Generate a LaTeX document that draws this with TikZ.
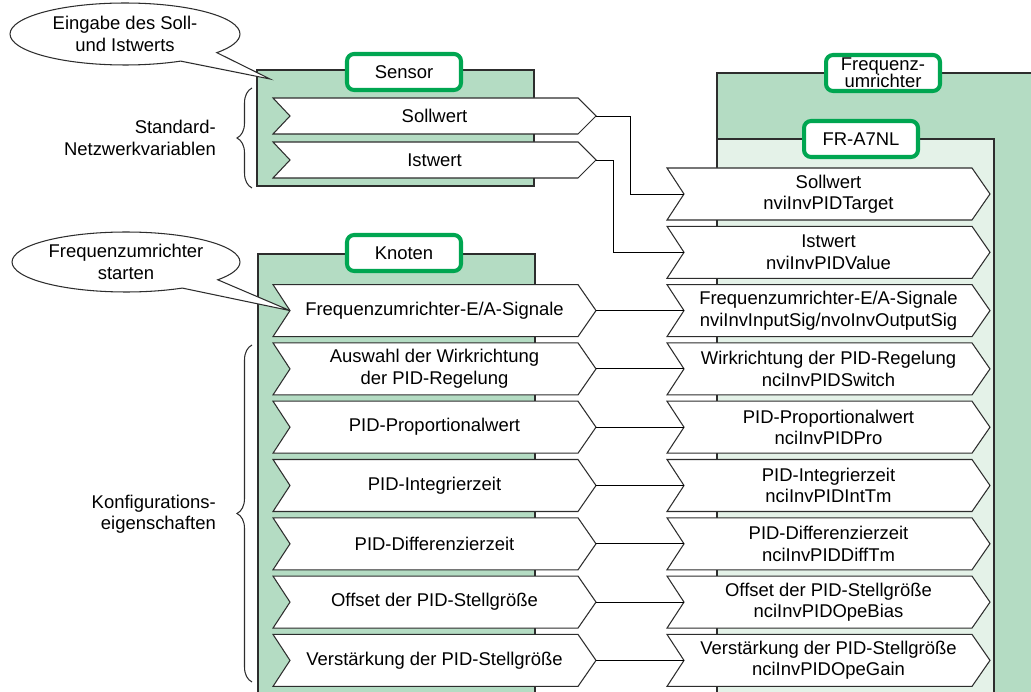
\documentclass[tikz,border=0pt]{standalone}
\usepackage{fontspec}
\setmainfont{Liberation Sans}
\usepackage{tikz}
\usetikzlibrary{shapes.callouts,decorations.pathreplacing}
\usepackage{xcolor}
\definecolor{blockgreen}{RGB}{180,220,195}
\definecolor{panelgreen}{RGB}{228,242,232}
\definecolor{tabgreen}{RGB}{0,166,81}
\definecolor{edgegray}{RGB}{45,45,45}

\tikzset{
  sigline/.style={draw=edgegray, fill=white, line width=0.6pt},
  sigtext/.style={align=center, inner sep=0pt},
  blockbox/.style={draw=edgegray, line width=0.6pt},
  blocktab/.style={draw=tabgreen, line width=2.3pt, rounded corners=4pt, fill=white,
    minimum width=2.28cm, minimum height=0.72cm, inner sep=0pt, align=center},
  wire/.style={draw=black, line width=0.5pt},
  bracket/.style={draw=edgegray, decorate, decoration={brace, amplitude=0.3cm}, line width=0.6pt},
  bubble/.style={ellipse callout, draw=edgegray, fill=white, line width=0.6pt,
    align=center, inner sep=0pt, callout pointer arc=24}
}

% signal arrow: name, left end, tip, centre line, half height, label
\newcommand{\sigarrow}[6]{%
  \draw[sigline] (#2,#4-#5) -- (#3-18,#4-#5) -- (#3,#4) -- (#3-18,#4+#5)
    -- (#2,#4+#5) -- (#2+17,#4) -- cycle;
  \node[sigtext] (#1) at ({(#2+#3)/2},#4) {#6};
  \coordinate (#1-in) at (#2+17,#4);
  \coordinate (#1-out) at (#3,#4);
}

\begin{document}
\begin{tikzpicture}[x=0.02cm,y=-0.02cm,font=\fontsize{10.5}{12.2}\selectfont]
    \useasboundingbox (0,0) rectangle (1031,692);
    \clip (0,0) rectangle (1031,692);

    % Frequenzumrichter with FR-A7NL
    \draw[blockbox,fill=blockgreen] (717,73) rectangle (1050,710);
    \draw[blockbox,fill=panelgreen] (717,139) rectangle (994,710);
    \node[blocktab] (fulbl) at (883,73) {Frequenz-\\[-2.4pt]umrichter};
    \node[blocktab] (fralbl) at (861,139) {FR-A7NL};

    % Sensor and Knoten
    \draw[blockbox,fill=blockgreen] (257,70) rectangle (534,186);
    \node[blocktab] (sensorlbl) at (404,72) {Sensor};
    \draw[blockbox,fill=blockgreen] (258,254) rectangle (535,710);
    \node[blocktab] (knotenlbl) at (404,253) {Knoten};

    % Sensor variables
    \sigarrow{sollS}{273}{596}{116}{18}{Sollwert}
    \sigarrow{istS}{273}{596}{160}{18}{Istwert}

    % Knoten variables
    \sigarrow{kn-eas}{273}{596}{310.6}{26}{Frequenzumrichter-E/A-Signale}
    \sigarrow{kn-wirk}{273}{596}{368.9}{26}{Auswahl der Wirkrichtung\\der PID-Regelung}
    \sigarrow{kn-prop}{273}{596}{427.2}{26}{PID-Proportionalwert}
    \sigarrow{kn-integ}{273}{596}{485.5}{26}{PID-Integrierzeit}
    \sigarrow{kn-diff}{273}{596}{543.8}{26}{PID-Differenzierzeit}
    \sigarrow{kn-off}{273}{596}{602.1}{26}{Offset der PID-Stellgröße}
    \sigarrow{kn-gain}{273}{596}{660.4}{26}{Verstärkung der PID-Stellgröße}

    % FR-A7NL variables
    \sigarrow{sollF}{667}{990}{194}{26}{Sollwert\\nviInvPIDTarget}
    \sigarrow{istF}{667}{990}{252.3}{26}{Istwert\\nviInvPIDValue}
    \sigarrow{fr-eas}{667}{990}{310.6}{26}{Frequenzumrichter-E/A-Signale\\nviInvInputSig/nvoInvOutputSig}
    \sigarrow{fr-wirk}{667}{990}{368.9}{26}{Wirkrichtung der PID-Regelung\\nciInvPIDSwitch}
    \sigarrow{fr-prop}{667}{990}{427.2}{26}{PID-Proportionalwert\\nciInvPIDPro}
    \sigarrow{fr-integ}{667}{990}{485.5}{26}{PID-Integrierzeit\\nciInvPIDIntTm}
    \sigarrow{fr-diff}{667}{990}{543.8}{26}{PID-Differenzierzeit\\nciInvPIDDiffTm}
    \sigarrow{fr-off}{667}{990}{602.1}{26}{Offset der PID-Stellgröße\\nciInvPIDOpeBias}
    \sigarrow{fr-gain}{667}{990}{660.4}{26}{Verstärkung der PID-Stellgröße\\nciInvPIDOpeGain}

    % Connections
    \draw[wire] (sollS-out) -- ++(34,0) |- (sollF-in);
    \draw[wire] (istS-out) -- ++(17,0) |- (istF-in);
    \foreach \n in {eas,wirk,prop,integ,diff,off,gain}
        \draw[wire] (kn-\n-out) -- (fr-\n-in);

    % Braces
    \draw[bracket] (252,188) -- (252,88);
    \node[anchor=east,align=right] (stdlbl) at (222,138) {Standard-\\Netzwerkvariablen};
    \draw[bracket] (252,682) -- (252,345);
    \node[anchor=east,align=right] (konflbl) at (222,514) {Konfigurations-\\eigenschaften};

    % Callouts
    \coordinate (sensortip) at (270,79);
    \coordinate (starttip) at (290,310.6);
    \node[bubble, minimum width=4.6cm, minimum height=1.24cm,
        callout absolute pointer=(sensortip)] (callsoll) at (125,34) {Eingabe des Soll-\\und Istwerts};
    \node[bubble, minimum width=4.56cm, minimum height=1.2cm,
        callout absolute pointer=(starttip)] (callstart) at (126,262) {Frequenzumrichter\\starten};
\end{tikzpicture}
\end{document}
